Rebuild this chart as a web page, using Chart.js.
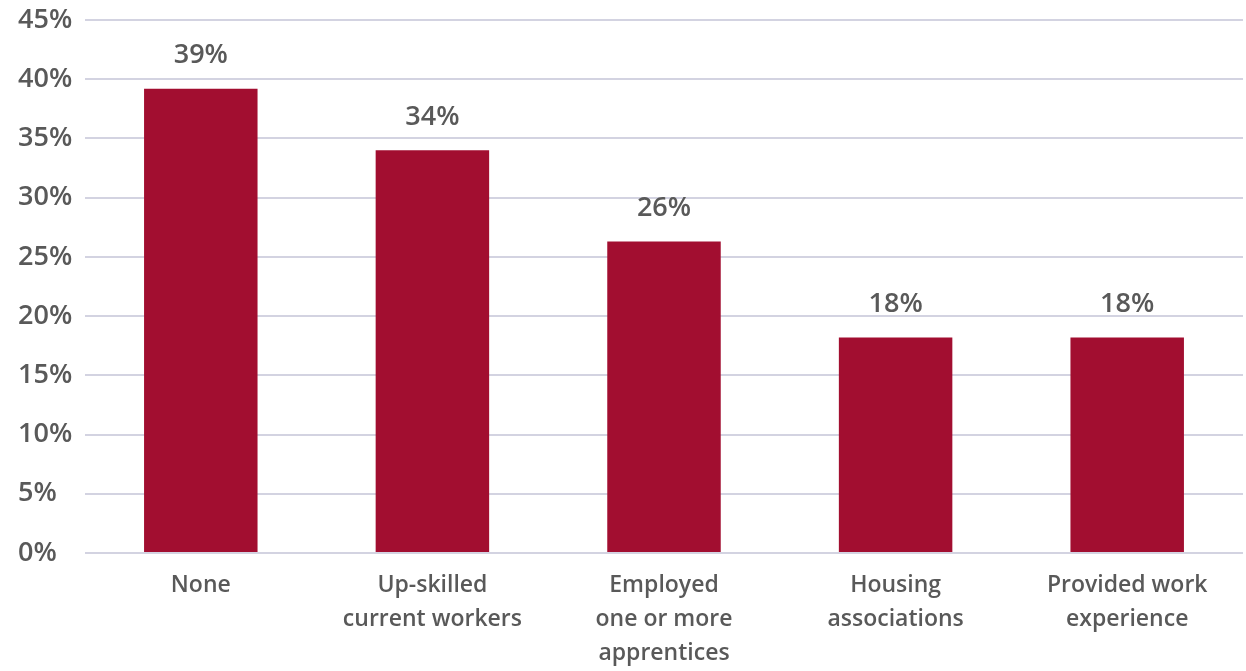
<!DOCTYPE html>
<html>
<head>
<meta charset="utf-8">
<script src="https://cdn.jsdelivr.net/npm/chart.js@4"></script>
<style>
  body { margin: 0; background: #fff; }
  #wrap { width: 1246px; height: 671px; }
</style>
</head>
<body>
<div id="wrap"><canvas id="chart" width="1246" height="671"></canvas></div>
<script>
// categories and values
var categories = [
  ['None'],
  ['Up-skilled', 'current workers'],
  ['Employed', 'one or more', 'apprentices'],
  ['Housing', 'associations'],
  ['Provided work', 'experience']
];
var shares = [39.2, 34.0, 26.3, 18.2, 18.2];
var yTicks = [0, 5, 10, 15, 20, 25, 30, 35, 40, 45];

var textColor = '#595959';
var barColor = '#A20E30';
var gridColor = '#D3D3E1';
var fontFamily = "'Open Sans'";

// value labels above bars
var barLabels = {
  id: 'barLabels',
  afterDatasetsDraw: function(chart) {
    var ctx = chart.ctx;
    var meta = chart.getDatasetMeta(0);
    ctx.save();
    ctx.fillStyle = textColor;
    ctx.font = '600 27px ' + fontFamily;
    ctx.textAlign = 'center';
    ctx.textBaseline = 'middle';
    meta.data.forEach(function(bar, i) {
      ctx.fillText(Math.round(shares[i]) + '%', bar.x, bar.y - 33);
    });
    ctx.restore();
  }
};

var myChart = new Chart(document.getElementById('chart'), {
  type: 'bar',
  data: {
    labels: categories,
    datasets: [{
      data: shares,
      backgroundColor: barColor,
      categoryPercentage: 1,
      barPercentage: 0.49
    }]
  },
  options: {
    responsive: false,
    animation: false,
    layout: { padding: { left: 18, right: 3, top: 20, bottom: 0 } },
    plugins: {
      legend: { display: false },
      tooltip: { enabled: false }
    },
    scales: {
      x: {
        grid: { display: false, drawTicks: false },
        border: { display: false },
        afterFit: function(axis) { axis.height = 118; },
        ticks: {
          color: textColor,
          font: { family: fontFamily, size: 23, weight: '600', lineHeight: 1.48 },
          padding: 15,
          maxRotation: 0,
          autoSkip: false
        }
      },
      y: {
        min: 0,
        max: 45,
        afterBuildTicks: function(axis) {
          axis.ticks = yTicks.map(function(v) { return { value: v }; });
        },
        afterFit: function(axis) {
          axis.width = 67;
          axis.paddingTop = 0;
          axis.paddingBottom = 0;
        },
        grid: { color: gridColor, lineWidth: 2, drawTicks: false },
        border: { display: false },
        ticks: {
          color: textColor,
          font: { family: fontFamily, size: 27, weight: '600' },
          padding: 10,
          crossAlign: 'far',
          callback: function(v) { return v + '%'; }
        }
      }
    }
  },
  plugins: [barLabels]
});
</script>
</body>
</html>
